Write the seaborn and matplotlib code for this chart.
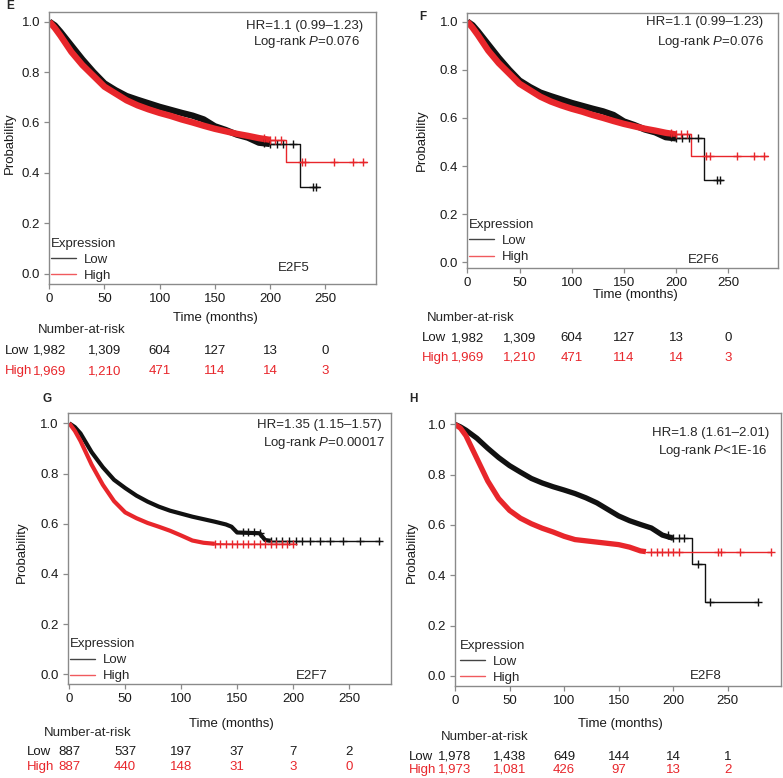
import numpy as np
import pandas as pd
import matplotlib
matplotlib.use("Agg")
import matplotlib.pyplot as plt
import seaborn as sns
from matplotlib.lines import Line2D
from matplotlib.transforms import blended_transform_factory

# ---------------- data ----------------
groups = ["Low", "High"]
risk_times = [0, 50, 100, 150, 200, 250]

# E2F5 (panel E)
e_low_t = [0, 5, 10, 20, 30, 40, 50, 60, 70, 80, 90, 100, 110, 120, 130, 140, 150, 160, 170, 180, 190, 200, 227, 227, 245]
e_low_s = [1.0, 0.985, 0.96, 0.905, 0.85, 0.80, 0.755, 0.728, 0.705, 0.69, 0.676, 0.662, 0.65, 0.638, 0.627, 0.612, 0.585, 0.57, 0.552, 0.54, 0.52, 0.515, 0.515, 0.343, 0.343]
e_high_t = [0, 5, 10, 20, 30, 40, 50, 60, 70, 80, 90, 100, 110, 120, 130, 140, 150, 160, 170, 180, 190, 200, 214.6, 214.6, 288]
e_high_s = [1.0, 0.975, 0.945, 0.88, 0.828, 0.785, 0.742, 0.715, 0.688, 0.668, 0.652, 0.638, 0.626, 0.612, 0.60, 0.587, 0.575, 0.565, 0.555, 0.547, 0.538, 0.531, 0.531, 0.442, 0.442]
e_low_cens = [195, 200, 206, 212, 221, 239, 242]
e_high_cens = [195, 200, 205, 210, 229, 232, 258, 275, 284]
e_risk_low = ["1,982", "1,309", "604", "127", "13", "0"]
e_risk_high = ["1,969", "1,210", "471", "114", "14", "3"]

# E2F6 (panel F) - same cohort split as shown in the figure
f_low_t, f_low_s = e_low_t, e_low_s
f_high_t, f_high_s = e_high_t, e_high_s
f_low_cens, f_high_cens = e_low_cens, e_high_cens
f_risk_low = ["1,982", "1,309", "604", "127", "13", "0"]
f_risk_high = ["1,969", "1,210", "471", "114", "14", "3"]

# E2F7 (panel G)
g_low_t = [0, 5, 10, 20, 30, 40, 50, 60, 70, 80, 90, 100, 110, 120, 130, 140, 145, 150, 170, 175, 180, 278]
g_low_s = [1.0, 0.985, 0.96, 0.885, 0.825, 0.775, 0.742, 0.712, 0.688, 0.668, 0.652, 0.64, 0.628, 0.618, 0.608, 0.597, 0.588, 0.565, 0.562, 0.535, 0.532, 0.532]
g_high_t = [0, 5, 10, 20, 30, 40, 50, 60, 70, 80, 90, 100, 110, 120, 130, 150, 180, 203]
g_high_s = [1.0, 0.97, 0.93, 0.835, 0.755, 0.69, 0.645, 0.622, 0.603, 0.588, 0.572, 0.553, 0.533, 0.524, 0.52, 0.518, 0.518, 0.518]
g_low_cens = [155, 160, 165, 170, 180, 185, 190, 196, 203, 208, 215, 224, 233, 245, 260, 277]
g_high_cens = [130, 135, 140, 145, 150, 155, 160, 165, 170, 175, 180, 185, 190, 195, 200]
g_risk_low = ["887", "537", "197", "37", "7", "2"]
g_risk_high = ["887", "440", "148", "31", "3", "0"]

# E2F8 (panel H)
h_low_t = [0, 5, 10, 20, 30, 40, 50, 60, 70, 80, 90, 100, 110, 120, 130, 140, 150, 160, 170, 180, 190, 200, 217, 217, 229, 229, 278]
h_low_s = [1.0, 0.99, 0.977, 0.945, 0.905, 0.868, 0.836, 0.81, 0.785, 0.767, 0.752, 0.739, 0.725, 0.708, 0.688, 0.662, 0.636, 0.617, 0.602, 0.588, 0.56, 0.547, 0.547, 0.444, 0.444, 0.293, 0.293]
h_high_t = [0, 5, 10, 20, 30, 40, 50, 60, 70, 80, 90, 100, 110, 120, 130, 140, 150, 160, 170, 175, 290]
h_high_s = [1.0, 0.985, 0.955, 0.865, 0.775, 0.705, 0.658, 0.627, 0.605, 0.587, 0.572, 0.555, 0.542, 0.537, 0.532, 0.527, 0.522, 0.512, 0.497, 0.494, 0.494]
h_low_cens = [195, 200, 205, 210, 223, 234, 278]
h_high_cens = [180, 185, 190, 195, 200, 205, 241, 244, 261, 290]
h_risk_low = ["1,978", "1,438", "649", "144", "14", "1"]
h_risk_high = ["1,973", "1,081", "426", "97", "13", "2"]

# ---------------- style ----------------
sns.set_theme(style="white")
plt.rcParams["font.family"] = ["Liberation Sans", "DejaVu Sans"]
plt.rcParams["mathtext.fontset"] = "custom"
plt.rcParams["mathtext.rm"] = "Liberation Sans"
plt.rcParams["mathtext.it"] = "Liberation Sans:italic"

LOW_C = "#111111"
HIGH_C = "#e8262b"
SPINE_C = "#8a8a8a"
FS = 9.5

W, H = 783, 778
fig = plt.figure(figsize=(W / 100, H / 100), dpi=100)


def fx(x):
    return x / W


def fy(y):
    return 1 - y / H


def ftext(x, y, s, **kw):
    fig.text(fx(x), fy(y), s, fontsize=kw.pop("fontsize", FS), **kw)


panels = [
    dict(letter="E", gene="E2F5", box=(49, 12, 376, 284), xlim=(-0.3, 296.2), ylim=(-0.041, 1.0385),
         low=(e_low_t, e_low_s, e_low_cens), high=(e_high_t, e_high_s, e_high_cens), band=(200, 200), lw=4.6,
         risk=(e_risk_low, e_risk_high), hr="HR=1.1 (0.99–1.23)", p="Log-rank $\\it{P}$=0.076",
         letter_xy=(10, 6), hr_xy=(362.7, 26), p_xy=(360, 41.7), gene_xy=(293.3, 268.3),
         ylab=(-0.119, 0.518), xlab=(0.508, -0.125), leg=(0.0, 0.0),
         nar_xy=(38, 330), low_xy=(5, 350.5), high_xy=(5, 371)),
    dict(letter="F", gene="E2F6", box=(467.3, 12.7, 777.7, 268.3), xlim=(0, 297.3), ylim=(-0.025, 1.037),
         low=(f_low_t, f_low_s, f_low_cens), high=(f_high_t, f_high_s, f_high_cens), band=(200, 200), lw=4.6,
         risk=(f_risk_low, f_risk_high), hr="HR=1.1 (0.99–1.23)", p="Log-rank $\\it{P}$=0.076",
         letter_xy=(423.3, 16.7), hr_xy=(763.3, 21.7), p_xy=(764.3, 41.7), gene_xy=(703.3, 260),
         ylab=(-0.147, 0.502), xlab=(0.543, -0.104), leg=(0.0, 0.012),
         nar_xy=(426.7, 318.3), low_xy=(421.7, 338.3), high_xy=(421.7, 357.7)),
    dict(letter="G", gene="E2F7", box=(67.7, 413.3, 391, 684.3), xlim=(-1.4, 287.5), ylim=(-0.04, 1.04),
         low=(g_low_t, g_low_s, g_low_cens), high=(g_high_t, g_high_s, g_high_cens), band=(180, 130), lw=3.0,
         risk=(g_risk_low, g_risk_high), hr="HR=1.35 (1.15–1.57)", p="Log-rank $\\it{P}$=0.00017",
         letter_xy=(46.7, 399.3), hr_xy=(381.7, 425), p_xy=(385, 442.7), gene_xy=(311.3, 676),
         ylab=(-0.142, 0.489), xlab=(0.507, -0.146), leg=(0.0, 0.0),
         nar_xy=(44, 733.3), low_xy=(26.7, 751.7), high_xy=(26.7, 766.7)),
    dict(letter="H", gene="E2F8", box=(455, 413.3, 781, 686), xlim=(0, 298.8), ylim=(-0.04, 1.044),
         low=(h_low_t, h_low_s, h_low_cens), high=(h_high_t, h_high_s, h_high_cens), band=(200, 175), lw=3.8,
         risk=(h_risk_low, h_risk_high), hr="HR=1.8 (1.61–2.01)", p="Log-rank $\\it{P}$<1E-16",
         letter_xy=(413.3, 399.3), hr_xy=(769, 433.3), p_xy=(767.7, 450.7), gene_xy=(705.8, 676),
         ylab=(-0.133, 0.492), xlab=(0.506, -0.139), leg=(0.01, 0.0),
         nar_xy=(440.7, 736.7), low_xy=(409.3, 756.7), high_xy=(409.3, 770)),
]


def draw_curve(ax, t, s, cens, band_end, color, lw):
    t = np.asarray(t, float)
    s = np.asarray(s, float)
    m = t <= band_end
    band = pd.DataFrame({"time": t[m], "surv": s[m]})
    sns.lineplot(data=band, x="time", y="surv", color=color, lw=lw, ax=ax,
                 estimator=None, sort=False, legend=False, solid_capstyle="butt")
    k = np.searchsorted(t, band_end, side="right") - 1
    tail = pd.DataFrame({"time": t[k:], "surv": s[k:]})
    sns.lineplot(data=tail, x="time", y="surv", color=color, lw=1.0, ax=ax,
                 estimator=None, sort=False, legend=False)
    c = np.asarray(cens, float)
    idx = np.searchsorted(t, c, side="right") - 1
    cdf = pd.DataFrame({"time": c, "surv": s[idx]})
    sns.scatterplot(data=cdf, x="time", y="surv", marker="+", color=color, s=30,
                    linewidth=1.0, ax=ax, legend=False, zorder=3)


for p in panels:
    l, t, r, b = p["box"]
    ax = fig.add_axes([fx(l), fy(b), fx(r - l), (b - t) / H])
    draw_curve(ax, *p["low"], p["band"][0], LOW_C, p["lw"])
    draw_curve(ax, *p["high"], p["band"][1], HIGH_C, p["lw"])
    ax.set_xlim(*p["xlim"])
    ax.set_ylim(*p["ylim"])
    ax.set_xticks([0, 50, 100, 150, 200, 250])
    ax.set_yticks([0.0, 0.2, 0.4, 0.6, 0.8, 1.0])
    ax.set_yticklabels(["0.0", "0.2", "0.4", "0.6", "0.8", "1.0"])
    for sp in ax.spines.values():
        sp.set_color(SPINE_C)
        sp.set_linewidth(1.0)
    ax.tick_params(axis="both", which="major", length=3.5, width=0.9, color=SPINE_C,
                   labelsize=FS, labelcolor="#1a1a1a", pad=3, left=True, bottom=True)
    ax.set_xlabel("Time (months)", fontsize=FS, color="#1a1a1a", va="center")
    ax.set_ylabel("Probability", fontsize=FS, color="#1a1a1a", va="center")
    ax.xaxis.set_label_coords(*p["xlab"])
    ax.yaxis.set_label_coords(*p["ylab"])
    ax.grid(False)

    handles = [Line2D([], [], color="#444444", lw=1.0), Line2D([], [], color="#f05a5e", lw=1.0)]
    ax.legend(handles, groups, title="Expression", loc="lower left", bbox_to_anchor=p["leg"],
              frameon=False, fontsize=FS, title_fontsize=FS, handlelength=1.9, handletextpad=0.6,
              labelspacing=0.3, borderpad=0.15, borderaxespad=0.0, alignment="left")

    ftext(*p["letter_xy"], p["letter"], fontweight="bold", fontsize=8.5, ha="center", va="center")
    ftext(*p["hr_xy"], p["hr"], ha="right", va="center")
    ftext(*p["p_xy"], p["p"], ha="right", va="center")
    ftext(*p["gene_xy"], p["gene"], ha="center", va="center")

    # number-at-risk table
    ftext(*p["nar_xy"], "Number-at-risk", ha="left", va="center")
    ftext(*p["low_xy"], "Low", ha="left", va="center", color="#1a1a1a")
    ftext(*p["high_xy"], "High", ha="left", va="center", color=HIGH_C)
    tr = blended_transform_factory(ax.transData, fig.transFigure)
    low_row, high_row = p["risk"]
    for tt, lo, hi in zip(risk_times, low_row, high_row):
        ax.text(tt, fy(p["low_xy"][1]), lo, transform=tr, ha="center", va="center",
                fontsize=FS, color="#1a1a1a", clip_on=False)
        ax.text(tt, fy(p["high_xy"][1]), hi, transform=tr, ha="center", va="center",
                fontsize=FS, color=HIGH_C, clip_on=False)

fig.savefig("out.png", dpi=100)
